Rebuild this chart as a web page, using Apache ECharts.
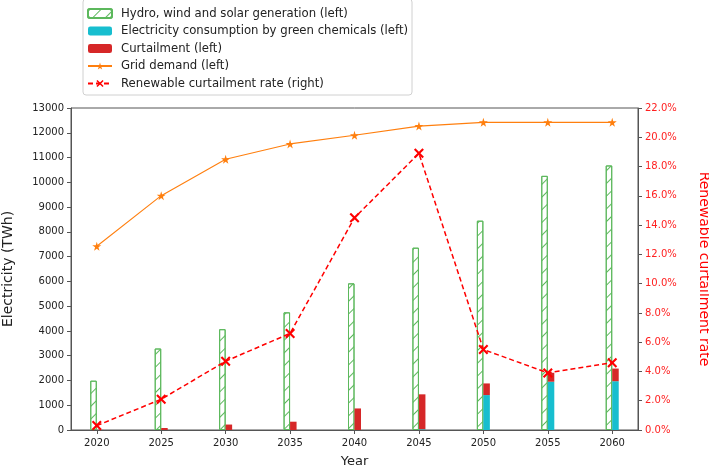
<!DOCTYPE html>
<html><head><meta charset="utf-8">
<script src="https://cdn.jsdelivr.net/npm/echarts@6/dist/echarts.min.js"></script>
<style>html,body{margin:0;padding:0;background:#fff}#c{width:709px;height:468px}</style>
</head><body><div id="c"></div>
<script>
const years = [2020, 2025, 2030, 2035, 2040, 2045, 2050, 2055, 2060];
const generation = [1990, 3290, 4070, 4750, 5920, 7360, 8450, 10260, 10680];
const chemicals = [0, 0, 0, 0, 0, 30, 1410, 1950, 1970];
const curtailment = [5, 80, 220, 335, 870, 1410, 470, 360, 510];
const gridDemand = [7420, 9460, 10930, 11550, 11900, 12270, 12420, 12420, 12420];
const curtailRate = [0.3, 2.1, 4.7, 6.6, 14.5, 18.9, 5.5, 3.9, 4.6];
const leftTicks = [0, 1000, 2000, 3000, 4000, 5000, 6000, 7000, 8000, 9000, 10000, 11000, 12000, 13000];
const rightTicks = [0, 2, 4, 6, 8, 10, 12, 14, 16, 18, 20, 22];

const font = 'DejaVu Sans';
// value first, year second (encode maps them), so stacking happens on the value dimension
const pair = (arr) => years.map((y, i) => [arr[i], y]);
const enc = {x: 1, y: 0};
const starPath = 'path://M50,0 L61,35 L98,35 L68,57 L79,91 L50,70 L21,91 L32,57 L2,35 L39,35 Z';
const xPath = 'path://M0,1.5 L1.5,0 L5,3.5 L8.5,0 L10,1.5 L6.5,5 L10,8.5 L8.5,10 L5,6.5 L1.5,10 L0,8.5 L3.5,5 Z';
const green = '#5cb85c';

const chart = echarts.init(document.getElementById('c'), null, {renderer: 'canvas'});
chart.setOption({
  animation: false,
  textStyle: {fontFamily: font},
  grid: {left: 71, right: 71, top: 108, bottom: 38, containLabel: false, outerBoundsMode: 'none',
    show: true, borderColor: '#555', borderWidth: 1, backgroundColor: 'transparent'},
  legend: {
    orient: 'vertical', left: 83, top: -1,
    padding: [8, 4, 5, 4], itemGap: 4.5, itemWidth: 24, itemHeight: 9,
    borderColor: '#d0d0d0', borderWidth: 1, borderRadius: 3, backgroundColor: '#fff',
    textStyle: {fontFamily: font, fontSize: 11.7, color: '#222', lineHeight: 13, padding: [0, 0, 0, 4]},
    data: ['Hydro, wind and solar generation (left)', 'Electricity consumption by green chemicals (left)', 'Curtailment (left)', 'Grid demand (left)', 'Renewable curtailment rate (right)']
  },
  xAxis: {
    type: 'value', min: 2018, max: 2062, interval: 1,
    name: 'Year', nameLocation: 'middle', nameGap: 25,
    nameTextStyle: {fontFamily: font, fontSize: 13, color: '#222'},
    splitLine: {show: false},
    axisLine: {show: true, onZero: false, lineStyle: {color: '#555'}},
    axisTick: {show: true, length: 4, customValues: years, lineStyle: {color: '#555'}},
    axisLabel: {customValues: years, fontFamily: font, fontSize: 10, color: '#222', margin: 8,
      formatter: v => String(v)}
  },
  yAxis: [{
    type: 'value', min: 0, max: 13000, interval: 1000, position: 'left',
    name: 'Electricity (TWh)', nameLocation: 'middle', nameGap: 56, nameRotate: 90,
    nameTextStyle: {fontFamily: font, fontSize: 14, color: '#222'},
    splitLine: {show: false},
    axisLine: {show: true, lineStyle: {color: '#555'}},
    axisTick: {show: true, length: 4, lineStyle: {color: '#555'}},
    axisLabel: {customValues: leftTicks, fontFamily: font, fontSize: 10, color: '#222', margin: 7,
      formatter: v => String(v)}
  }, {
    type: 'value', min: 0, max: 22, interval: 2, position: 'right',
    name: 'Renewable curtailment rate', nameLocation: 'middle', nameGap: 59, nameRotate: -90,
    nameTextStyle: {fontFamily: font, fontSize: 14, color: '#ff0000'},
    splitLine: {show: false},
    axisLine: {show: true, lineStyle: {color: '#555'}},
    axisTick: {show: true, length: 4, lineStyle: {color: '#555'}},
    axisLabel: {customValues: rightTicks, fontFamily: font, fontSize: 10, color: '#ff2020', margin: 7,
      formatter: v => v.toFixed(1) + '%'}
  }],
  series: [{
    name: 'Hydro, wind and solar generation (left)', type: 'bar', data: pair(generation), encode: enc,
    barWidth: 6.5, barGap: '0%',
    itemStyle: {color: '#fff', borderColor: green, borderWidth: 1,
      decal: {symbol: 'rect', dashArrayX: [1, 0], dashArrayY: [1, 8], rotation: -Math.PI / 4, color: green, symbolSize: 1}}
  }, {
    name: 'Electricity consumption by green chemicals (left)', type: 'bar', stack: 'c', data: pair(chemicals), encode: enc,
    barWidth: 6.5, barGap: '0%', itemStyle: {color: '#17becf'}
  }, {
    name: 'Curtailment (left)', type: 'bar', stack: 'c', data: pair(curtailment), encode: enc,
    barWidth: 6.5, barGap: '0%', itemStyle: {color: '#d62728'}
  }, {
    name: 'Grid demand (left)', type: 'line', data: pair(gridDemand), encode: enc,
    symbol: starPath, symbolSize: 9, lineStyle: {color: '#ff7f0e', width: 1.1},
    itemStyle: {color: '#ff7f0e'}, z: 5
  }, {
    name: 'Renewable curtailment rate (right)', type: 'line', yAxisIndex: 1, data: pair(curtailRate), encode: enc,
    symbol: xPath, symbolSize: 10, lineStyle: {color: '#ff0000', width: 1.5, type: [5, 3]},
    itemStyle: {color: '#ff0000'}, z: 6
  }]
});
</script></body></html>
